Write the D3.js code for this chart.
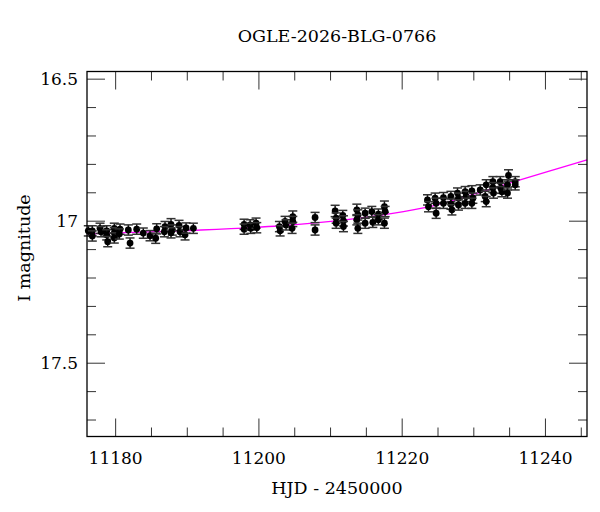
<!DOCTYPE html>
<html>
<head>
<meta charset="utf-8">
<script src="https://cdn.jsdelivr.net/npm/d3@7"></script>
<style>
  body { margin: 0; background: #fff; }
  text { font-family: "DejaVu Serif", serif; fill: #000; }
</style>
</head>
<body>
<div id="chart"></div>
<script>
// observations: HJD - 2450000, I magnitude, error
const hjd = [
  11176.18, 11176.74, 11176.74, 11177.82, 11177.96, 11178.75, 11178.75, 11178.89,
  11179.81, 11179.81, 11179.81, 11180.61, 11180.51, 11181.77, 11182.01, 11182.94,
  11183.86, 11184.80, 11185.73, 11185.59, 11186.89, 11186.80, 11187.73, 11187.91,
  11187.73, 11188.85, 11188.99, 11189.69, 11189.83, 11190.85,
  11197.93, 11197.93, 11198.77, 11198.86, 11199.60, 11199.70, 11202.86, 11202.96,
  11203.65, 11203.79, 11204.73, 11204.73, 11204.63, 11207.84, 11207.84, 11210.64,
  11210.78, 11210.78, 11211.71, 11211.80, 11211.80, 11213.67, 11213.81, 11213.67,
  11213.81, 11214.83, 11214.83, 11215.76, 11215.90, 11216.68, 11216.68, 11217.52,
  11217.62, 11217.52,
  11223.53, 11223.67, 11224.60, 11224.74, 11224.74, 11225.76, 11225.76, 11226.80,
  11226.80, 11226.94, 11227.72, 11227.86, 11227.86, 11228.79, 11228.93, 11228.79,
  11229.73, 11229.87, 11229.73, 11230.89, 11231.73, 11231.59, 11231.73, 11232.66,
  11232.66, 11232.75, 11233.68, 11233.78, 11233.92, 11234.84, 11234.70, 11234.70,
  11235.78, 11235.78
];
const mag = [
  17.034, 17.034, 17.052, 17.025, 17.037, 17.034, 17.048, 17.072,
  17.025, 17.041, 17.059, 17.028, 17.045, 17.031, 17.077, 17.028,
  17.042, 17.051, 17.027, 17.060, 17.019, 17.037, 17.011, 17.031,
  17.041, 17.015, 17.037, 17.048, 17.024, 17.025,
  17.011, 17.028, 17.013, 17.025, 17.007, 17.023, 17.019, 17.034,
  17.001, 17.013, 16.984, 17.001, 17.025, 16.987, 17.031, 16.964,
  16.989, 17.007, 16.980, 16.999, 17.019, 16.960, 16.978, 16.995,
  17.025, 16.972, 17.007, 16.966, 17.004, 16.975, 16.995, 16.949,
  16.966, 17.007,
  16.925, 16.949, 16.919, 16.937, 16.972, 16.917, 16.937, 16.913,
  16.940, 16.960, 16.901, 16.919, 16.943, 16.896, 16.913, 16.937,
  16.893, 16.919, 16.937, 16.890, 16.872, 16.913, 16.931, 16.861,
  16.882, 16.901, 16.861, 16.884, 16.896, 16.839, 16.872, 16.901,
  16.861, 16.872
];
const err = [
  0.018, 0.018, 0.018, 0.018, 0.018, 0.018, 0.018, 0.018,
  0.018, 0.018, 0.018, 0.018, 0.018, 0.018, 0.018, 0.018,
  0.018, 0.018, 0.018, 0.018, 0.018, 0.018, 0.020, 0.018,
  0.018, 0.018, 0.018, 0.018, 0.018, 0.018,
  0.018, 0.018, 0.018, 0.018, 0.018, 0.018, 0.018, 0.018,
  0.018, 0.018, 0.020, 0.018, 0.018, 0.018, 0.018, 0.020,
  0.018, 0.018, 0.018, 0.018, 0.018, 0.020, 0.018, 0.018,
  0.018, 0.018, 0.018, 0.018, 0.018, 0.018, 0.018, 0.020,
  0.018, 0.018,
  0.018, 0.018, 0.018, 0.018, 0.018, 0.018, 0.018, 0.018,
  0.018, 0.018, 0.018, 0.018, 0.018, 0.018, 0.018, 0.018,
  0.018, 0.018, 0.018, 0.018, 0.018, 0.018, 0.018, 0.018,
  0.018, 0.018, 0.018, 0.018, 0.018, 0.020, 0.018, 0.018,
  0.018, 0.018
];

// model light curve (magenta)
const modelHjd = [11176, 11190, 11203, 11212, 11218, 11224, 11230, 11236, 11241, 11245.8];
const modelMag = [17.045, 17.033, 17.016, 16.995, 16.975, 16.948, 16.905, 16.858, 16.820, 16.784];

const xMajor = [11180, 11200, 11220, 11240];
const yMajor = [16.5, 17, 17.5];
const yMajorLabels = ['16.5', '17', '17.5'];

const title = 'OGLE-2026-BLG-0766';
const xTitle = 'HJD - 2450000';
const yTitle = 'I magnitude';

const width = 600, height = 512;
const margin = { top: 71.5, right: 13, bottom: 75.5, left: 87 };
const iw = width - margin.left - margin.right;
const ih = height - margin.top - margin.bottom;

const svg = d3.select('#chart')
  .append('svg')
  .attr('width', width)
  .attr('height', height);

const g = svg.append('g')
  .attr('transform', `translate(${margin.left},${margin.top})`);

const x = d3.scaleLinear().domain([11176, 11245.8]).range([0, iw]);
const y = d3.scaleLinear().domain([16.473, 17.758]).range([0, ih]);

// tick marks on all four sides, pointing inward
const xMinor = d3.range(11180, 11246, 5).filter(v => !xMajor.includes(v));
const yMinor = d3.range(16.5, 17.76, 0.1).map(v => +v.toFixed(1)).filter(v => !yMajor.includes(v));

function axisTicks(axis, major, minor) {
  const a = g.append('g').attr('class', 'ticks').style('stroke', '#333').style('stroke-width', 1);
  const sides = axis === 'x'
    ? [[ih, -1], [0, 1]]
    : [[0, 1], [iw, -1]];
  sides.forEach(([base, dir]) => {
    [[major, 18], [minor, 9]].forEach(([vals, len]) => {
      a.selectAll(null)
        .data(vals)
        .enter().append('line')
        .attr('x1', d => axis === 'x' ? x(d) : base)
        .attr('x2', d => axis === 'x' ? x(d) : base + dir * len)
        .attr('y1', d => axis === 'x' ? base : y(d))
        .attr('y2', d => axis === 'x' ? base + dir * len : y(d));
    });
  });
}
axisTicks('x', xMajor, xMinor);
axisTicks('y', yMajor, yMinor);

// tick labels
g.selectAll('.xlab')
  .data(xMajor)
  .enter().append('text')
  .attr('class', 'xlab')
  .attr('x', d => x(d))
  .attr('y', ih + 27)
  .attr('text-anchor', 'middle')
  .style('font-size', '17px')
  .text(d => d);

g.selectAll('.ylab')
  .data(yMajor)
  .enter().append('text')
  .attr('class', 'ylab')
  .attr('x', -9)
  .attr('y', d => y(d))
  .attr('dy', '0.36em')
  .attr('text-anchor', 'end')
  .style('font-size', '17px')
  .text((d, i) => yMajorLabels[i]);

// model curve
const model = modelHjd.map((h, i) => [h, modelMag[i]]);
g.append('path')
  .datum(model)
  .attr('fill', 'none')
  .attr('stroke', '#ff00ff')
  .attr('stroke-width', 1.3)
  .attr('d', d3.line().x(d => x(d[0])).y(d => y(d[1])).curve(d3.curveMonotoneX));

// observations with error bars
const obs = hjd.map((h, i) => ({ hjd: h, mag: mag[i], err: err[i] }));
const pt = g.selectAll('.obs')
  .data(obs)
  .enter().append('g')
  .attr('class', 'obs');

pt.append('line')
  .attr('x1', d => x(d.hjd)).attr('x2', d => x(d.hjd))
  .attr('y1', d => y(d.mag - d.err)).attr('y2', d => y(d.mag + d.err))
  .style('stroke', '#111').style('stroke-width', 1.5);

[-1, 1].forEach(s => {
  pt.append('line')
    .attr('x1', d => x(d.hjd) - 4.5).attr('x2', d => x(d.hjd) + 4.5)
    .attr('y1', d => y(d.mag + s * d.err)).attr('y2', d => y(d.mag + s * d.err))
    .style('stroke', '#333').style('stroke-width', 1.5);
});

pt.append('circle')
  .attr('cx', d => x(d.hjd))
  .attr('cy', d => y(d.mag))
  .attr('r', 3.4)
  .style('fill', '#000');

// frame
g.append('rect')
  .attr('width', iw)
  .attr('height', ih)
  .attr('fill', 'none')
  .attr('stroke', '#000')
  .attr('stroke-width', 1.3);

// titles
svg.append('text')
  .attr('x', margin.left + iw / 2)
  .attr('y', 42)
  .attr('text-anchor', 'middle')
  .style('font-size', '17.5px')
  .text(title);

svg.append('text')
  .attr('x', margin.left + iw / 2)
  .attr('y', 494)
  .attr('text-anchor', 'middle')
  .style('font-size', '17.5px')
  .text(xTitle);

svg.append('text')
  .attr('transform', `translate(30,${margin.top + ih / 2 - 6}) rotate(-90)`)
  .attr('text-anchor', 'middle')
  .style('font-size', '17.5px')
  .text(yTitle);
</script>
</body>
</html>
